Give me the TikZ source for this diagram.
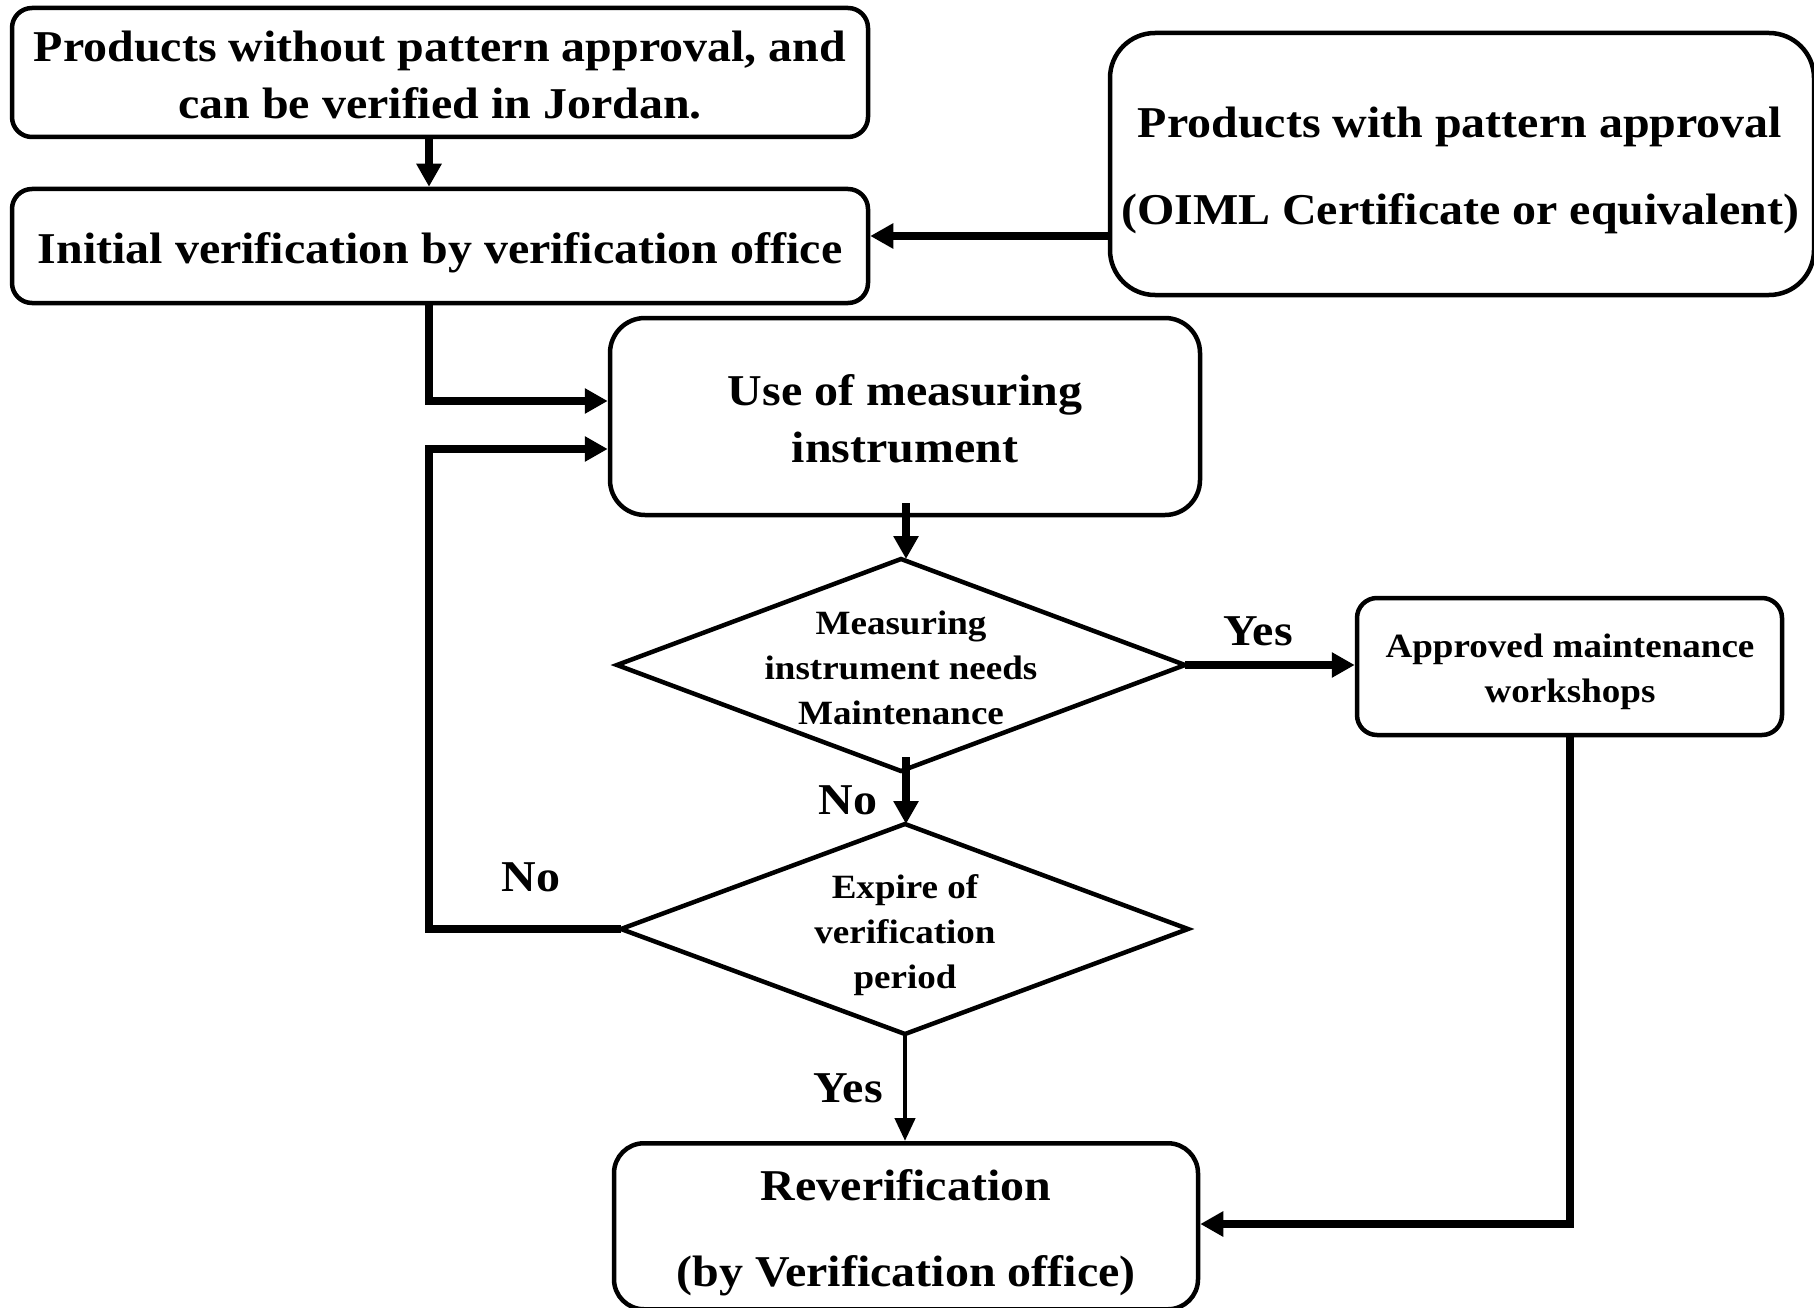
\documentclass[tikz,border=0pt]{standalone}
\usepackage{fontspec}
\setmainfont{Liberation Serif}[FakeStretch=1.09]
\usetikzlibrary{shapes.geometric,arrows.meta}
\tikzset{
  rbox/.style={draw,line width=4.5pt,rounded corners=#1,inner sep=0pt},
  txt/.style={align=center,inner sep=0pt,font=\fontsize{44}{57}\selectfont\bfseries},
  stxt/.style={align=center,inner sep=0pt,font=\fontsize{34}{45}\selectfont\bfseries},
  conn/.style={line width=7.5pt,-{Triangle[length=23pt,width=24pt]}},
  thinconn/.style={line width=4.5pt,-{Triangle[length=23pt,width=20pt]}},
  lbl/.style={font=\fontsize{44}{50}\selectfont\bfseries,inner sep=0pt},
}
\begin{document}
\begin{tikzpicture}[x=1pt,y=-1pt]
\useasboundingbox (0,0) rectangle (1814,1308);
% shapes
\node[rbox=20pt,minimum width=856pt,minimum height=129pt] (A) at (440,72.5) {};
\node[rbox=20pt,minimum width=856pt,minimum height=114pt] (B) at (440,246) {};
\node[rbox=45pt,minimum width=704pt,minimum height=262pt] (C) at (1462,164) {};
\node[rbox=35pt,minimum width=590pt,minimum height=197pt] (D) at (905,416.5) {};
\node[rbox=20pt,minimum width=425pt,minimum height=137pt] (E) at (1569.5,666.5) {};
\node[rbox=30pt,minimum width=584pt,minimum height=166pt,anchor=north] (F) at (906,1141) {};
\coordinate (q1w) at (617,665);
\coordinate (q1n) at (901,559);
\coordinate (q1e) at (1185,665);
\coordinate (q1s) at (901,771);
\draw[line width=4.5pt,line join=miter] (q1w) -- (q1n) -- (q1e) -- (q1s) -- cycle;
\coordinate (q2w) at (621,929);
\coordinate (q2n) at (905,824);
\coordinate (q2e) at (1188,929);
\coordinate (q2s) at (905,1034);
\draw[line width=4.5pt,line join=miter] (q2w) -- (q2n) -- (q2e) -- (q2s) -- cycle;
% texts
\node[txt] (At) at (440,75) {Products without pattern approval, and\\can be verified in Jordan.};
\node[txt] (Bt) at (440,253) {Initial verification by verification office};
\node[txt,font=\fontsize{44}{87}\selectfont\bfseries] (Ct) at (1460,170) {Products with pattern approval\\(OIML Certificate or equivalent)};
\node[txt] (Dt) at (905,419) {Use of measuring\\instrument};
\node[stxt] (Et) at (1570,672) {Approved maintenance\\workshops};
\node[stxt] (Q1t) at (901,668) {Measuring\\instrument needs\\Maintenance};
\node[stxt] (Q2t) at (905,935) {Expire of\\verification\\period};
\node[txt,font=\fontsize{44}{86}\selectfont\bfseries] (Ft) at (906,1233) {Reverification\\(by Verification office)};
% connectors
\coordinate (cb) at (1000,236);
\draw[conn] (A.south -| 429,0) -- (B.north -| 429,0);
\draw[conn] (cb -| C.west) -- (cb -| B.east);
\draw[conn] (B.south -| 429,0) |- (D.west |- 0,401);
\draw[conn] (q2w) -- (429,929) |- (D.west |- 0,449);
\draw[conn] ([yshift=14pt]D.south -| 906,0) -- (906,559);
\draw[conn] ([yshift=14pt]q1s -| 906,0) -- (906,824);
\draw[conn] (q1e) -- (E.west |- q1e);
\draw[conn] (E.south -| 1570,0) |- (F.east |- 0,1224);
\draw[thinconn] (q2s) -- (F.north -| q2s);
% labels
\node[lbl] (y1) at (1258,631) {Yes};
\node[lbl] (n1) at (848,800) {No};
\node[lbl] (n2) at (531,877) {No};
\node[lbl] (y2) at (848,1088) {Yes};
\end{tikzpicture}
\end{document}
